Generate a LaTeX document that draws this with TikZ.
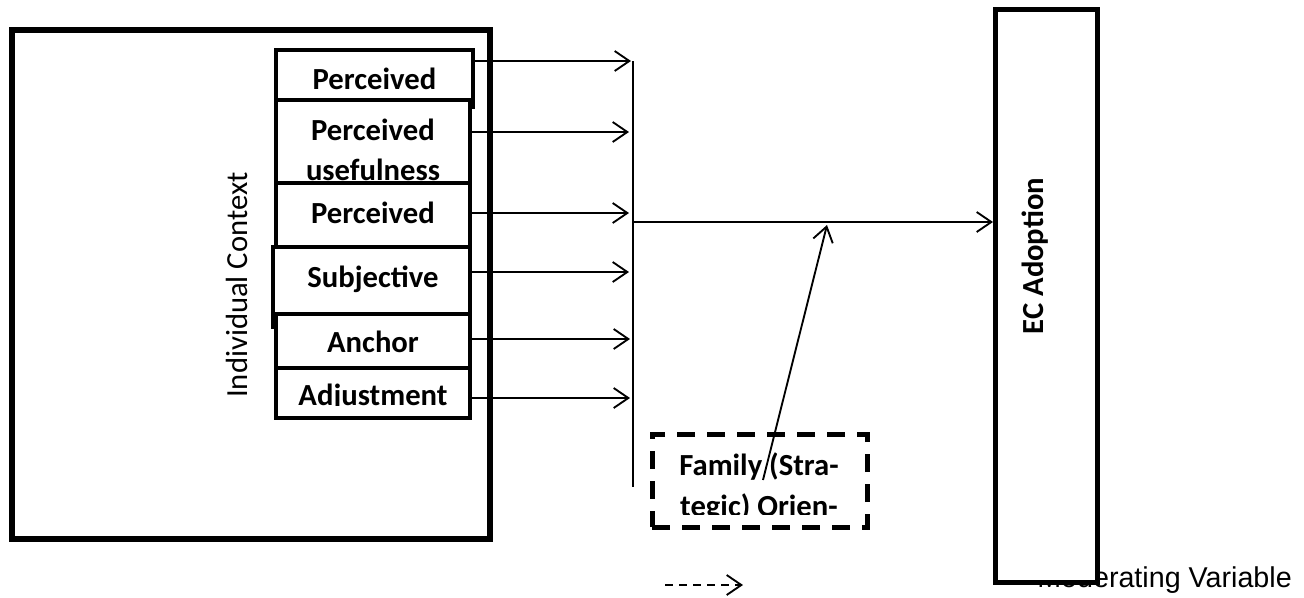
\documentclass[tikz,border=0pt]{standalone}
\usepackage{fontspec}
\setmainfont{Carlito}
\newfontfamily\arialfont{Liberation Sans}
\usetikzlibrary{arrows.meta,fit}
\begin{document}
\begin{tikzpicture}[x=0.75pt,y=-0.75pt,
  lbl/.style={font=\fontsize{23}{27}\selectfont\bfseries, inner sep=0pt, anchor=base},
  ctxbox/.style={draw, line width=4pt, inner sep=0pt},
  varbox/.style={draw, line width=3pt, fill=white, inner sep=0pt},
  modbox/.style={draw, dash pattern=on 13.5pt off 9pt, line width=3.75pt, inner sep=0pt},
  ecbox/.style={draw, line width=3.75pt, fill=white, inner sep=0pt},
  link/.style={line width=1.4pt, -{Straight Barb[length=11pt,width=15pt]}},
  thin/.style={line width=0.8pt}
]
\useasboundingbox (0,0) rectangle (1304,597);

% individual context
\node[ctxbox, fit={(12,30)(490,539)}] (ctx) {};
\node[font=\fontsize{23}{27}\selectfont, rotate=90, inner sep=0pt] (ctxlbl) at (237,285) {Individual Context};

% variable boxes
\node[varbox, fit={(276,50)(473,107)}] (v1) {};
\node[lbl] (v1a) at (374.5,89) {Perceived};
\node[varbox, fit={(276,100)(470,183)}] (v2) {};
\node[lbl] (v2a) at (373,140) {Perceived};
\node[lbl] (v2b) at (373,180) {usefulness};
\node[varbox, fit={(276,183)(470,247)}] (v3) {};
\node[lbl] (v3a) at (373,223) {Perceived};
\node[varbox, fit={(273,247)(470,327)}] (v4) {};
\node[lbl] (v4a) at (373,287) {Subjective};
\node[varbox, fit={(276,314)(470,368)}] (v5) {};
\node[lbl] (v5a) at (373,352) {Anchor};
\node[varbox, fit={(276,368)(470,418)}] (v6) {};
\begin{scope}
  \clip (278,370) rectangle (468,405.5);
  \node[lbl] (v6a) at (373,405) {Adjustment};
\end{scope}

% collector line
\coordinate (ctop) at (633,61);
\coordinate (cbot) at (633,487);
\draw[thin] (ctop) -- (cbot);
\coordinate (c1) at (631,61);
\coordinate (c2) at (629,132);
\coordinate (c3) at (629,213);
\coordinate (c4) at (629,272);
\coordinate (c5) at (630,339);
\coordinate (c6) at (630,398);
\draw[link] (v1.east |- c1) -- (c1);
\draw[link] (v2.east |- c2) -- (c2);
\draw[link] (v3.east |- c3) -- (c3);
\draw[link] (v4.east |- c4) -- (c4);
\draw[link] (v5.east |- c5) -- (c5);
\draw[link] (v6.east |- c6) -- (c6);

% legend text (under EC box)
\node[font=\arialfont\fontsize{21.5}{25}\selectfont, anchor=base east, inner sep=0pt] (legtxt) at (1292,587) {Moderating Variable};

% EC adoption
\node[ecbox, fit={(995.5,9.5)(1097.5,582)}] (ec) {};
\node[lbl, rotate=90] (eclbl) at (1043,256) {EC Adoption};
\coordinate (cmid) at (633,222);
\draw[link] (cmid) -- (ec.west |- cmid);

% moderator
\node[modbox, fit={(652,434)(867,527)}] (mod) {};
\node[lbl] (moda) at (759,475) {Family (Stra-};
\begin{scope}
  \clip (655,480) rectangle (865,514);
  \node[lbl] (modb) at (759,516) {tegic) Orien-};
\end{scope}
\coordinate (mstart) at (763,480);
\coordinate (mend) at (827,225);
\draw[link] (mstart) -- (mend);

% legend arrow
\coordinate (la) at (665,585);
\coordinate (lb) at (743,585);
\draw[link, dash pattern=on 6pt off 4.5pt] (la) -- (lb);
\end{tikzpicture}
\end{document}
